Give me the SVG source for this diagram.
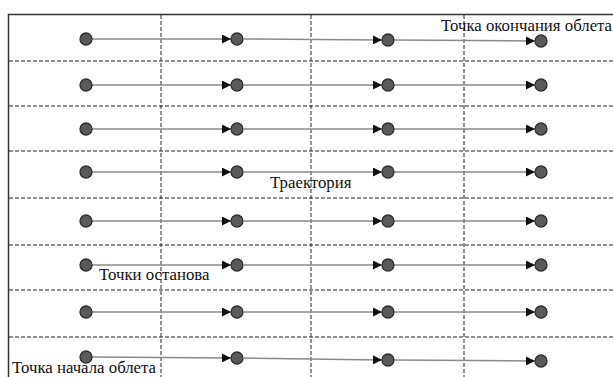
<svg xmlns="http://www.w3.org/2000/svg" width="613" height="377" viewBox="0 0 613 377">
  <style>
    .frame { fill: none; stroke: #333; stroke-width: 1.5; }
    .grid { stroke: #222; stroke-width: 1; stroke-dasharray: 4 2; fill: none; }
    .track { stroke: #8a8a8a; stroke-width: 1.5; fill: none; }
    .pt { fill: #5a5a5a; stroke: #2e2e2e; stroke-width: 1.3; }
    .lbl { font-family: "Liberation Serif", "Times New Roman", serif; font-size: 16.8px; fill: #111; }
  </style>
  <defs>
    <marker id="arrow" viewBox="0 0 10 10" refX="10" refY="5" markerWidth="9" markerHeight="9" markerUnits="userSpaceOnUse" orient="auto">
      <path d="M0,0 L10,5 L0,10 Z" fill="#111"/>
    </marker>
  </defs>
  <rect width="613" height="377" fill="#fff"/>

  <!-- grid -->
  <g id="grid">
    <path class="frame" d="M8.5,377 V14.5 H613"/>
    <path class="grid" d="M161,15 V377 M311,15 V377 M464,15 V377"/>
    <path class="grid" d="M9,61 H613 M9,106 H613 M9,151 H613 M9,198 H613 M9,245 H613 M9,290 H613 M9,337 H613"/>
  </g>

  <!-- connectors -->
  <g id="connectors">
    <path class="track" marker-end="url(#arrow)" d="M92,39 L231,39"/>
    <path class="track" marker-end="url(#arrow)" d="M244,39 L382,40"/>
    <path class="track" marker-end="url(#arrow)" d="M394,40 L535,41"/>

    <path class="track" marker-end="url(#arrow)" d="M92,85 L231,85"/>
    <path class="track" marker-end="url(#arrow)" d="M244,85 L382,85"/>
    <path class="track" marker-end="url(#arrow)" d="M394,85 L535,85"/>

    <path class="track" marker-end="url(#arrow)" d="M92,129 L231,129"/>
    <path class="track" marker-end="url(#arrow)" d="M244,129 L382,129"/>
    <path class="track" marker-end="url(#arrow)" d="M394,129 L535,129"/>

    <path class="track" marker-end="url(#arrow)" d="M92,172 L231,172"/>
    <path class="track" marker-end="url(#arrow)" d="M244,172 L382,172"/>
    <path class="track" marker-end="url(#arrow)" d="M394,172 L535,172"/>

    <path class="track" marker-end="url(#arrow)" d="M92,221 L231,221"/>
    <path class="track" marker-end="url(#arrow)" d="M244,221 L382,221"/>
    <path class="track" marker-end="url(#arrow)" d="M394,221 L535,221"/>

    <path class="track" marker-end="url(#arrow)" d="M92,265 L231,265"/>
    <path class="track" marker-end="url(#arrow)" d="M244,265 L382,265"/>
    <path class="track" marker-end="url(#arrow)" d="M394,265 L535,265"/>

    <path class="track" marker-end="url(#arrow)" d="M92,312 L231,312"/>
    <path class="track" marker-end="url(#arrow)" d="M244,312 L382,312"/>
    <path class="track" marker-end="url(#arrow)" d="M394,312 L535,312"/>

    <path class="track" marker-end="url(#arrow)" d="M92,357 L231,358"/>
    <path class="track" marker-end="url(#arrow)" d="M244,358 L382,360"/>
    <path class="track" marker-end="url(#arrow)" d="M394,360 L535,361"/>
  </g>

  <!-- points -->
  <g id="row1"><circle class="pt" cx="86" cy="39" r="6"/><circle class="pt" cx="237" cy="39" r="6"/><circle class="pt" cx="388" cy="40" r="6"/><circle class="pt" cx="541" cy="41" r="6"/></g>
  <g id="row2"><circle class="pt" cx="86" cy="85" r="6"/><circle class="pt" cx="237" cy="85" r="6"/><circle class="pt" cx="388" cy="85" r="6"/><circle class="pt" cx="541" cy="85" r="6"/></g>
  <g id="row3"><circle class="pt" cx="86" cy="129" r="6"/><circle class="pt" cx="237" cy="129" r="6"/><circle class="pt" cx="388" cy="129" r="6"/><circle class="pt" cx="541" cy="129" r="6"/></g>
  <g id="row4"><circle class="pt" cx="86" cy="172" r="6"/><circle class="pt" cx="237" cy="172" r="6"/><circle class="pt" cx="388" cy="172" r="6"/><circle class="pt" cx="541" cy="172" r="6"/></g>
  <g id="row5"><circle class="pt" cx="86" cy="221" r="6"/><circle class="pt" cx="237" cy="221" r="6"/><circle class="pt" cx="388" cy="221" r="6"/><circle class="pt" cx="541" cy="221" r="6"/></g>
  <g id="row6"><circle class="pt" cx="86" cy="265" r="6"/><circle class="pt" cx="237" cy="265" r="6"/><circle class="pt" cx="388" cy="265" r="6"/><circle class="pt" cx="541" cy="265" r="6"/></g>
  <g id="row7"><circle class="pt" cx="86" cy="312" r="6"/><circle class="pt" cx="237" cy="312" r="6"/><circle class="pt" cx="388" cy="312" r="6"/><circle class="pt" cx="541" cy="312" r="6"/></g>
  <g id="row8"><circle class="pt" cx="86" cy="357" r="6"/><circle class="pt" cx="237" cy="358" r="6"/><circle class="pt" cx="388" cy="360" r="6"/><circle class="pt" cx="541" cy="361" r="6"/></g>

  <!-- labels -->
  <g id="labels">
    <text class="lbl" x="441" y="31">Точка окончания облета</text>
    <text class="lbl" x="270" y="188">Траектория</text>
    <text class="lbl" x="99" y="280">Точки останова</text>
    <text class="lbl" x="12" y="373">Точка начала облета</text>
  </g>
</svg>
